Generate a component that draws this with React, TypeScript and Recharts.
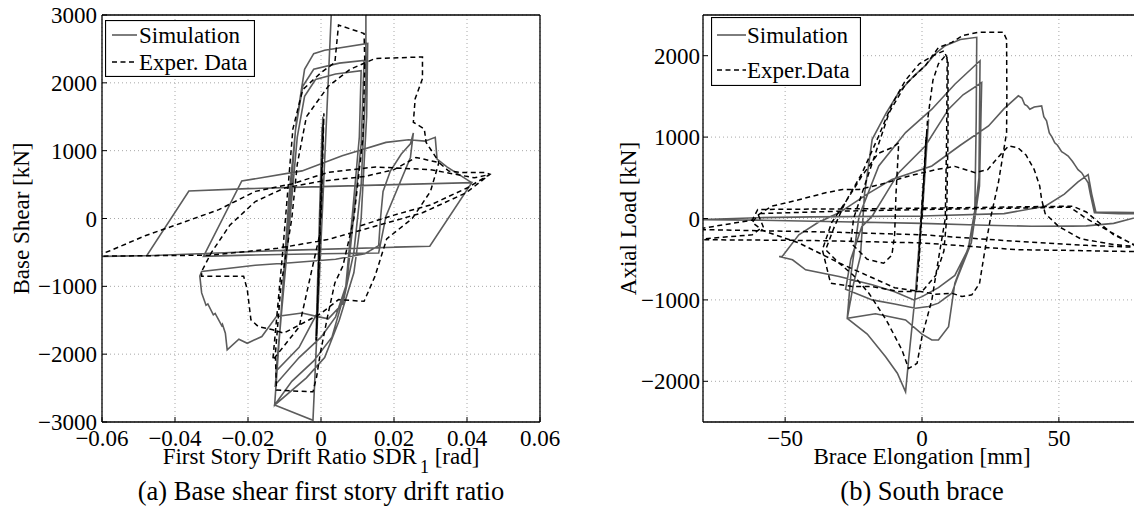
import React from 'react';
import { LineChart, Line, XAxis, YAxis, CartesianGrid, Legend, Label } from 'recharts';

type Pt = { x: number; y: number };
const toPts = (a: number[][]): Pt[] => a.map(([x, y]) => ({ x, y }));

const FONT = "'Liberation Serif', 'Times New Roman', 'DejaVu Serif', serif";
const SIM_COLOR = '#5c5c5c';
const EXP_COLOR = '#000000';

// ---------- axis ticks ----------
const driftTicks = [-0.06, -0.04, -0.02, 0, 0.02, 0.04, 0.06];
const shearTicks = [-3000, -2000, -1000, 0, 1000, 2000, 3000];
const elongTicks = [-50, 0, 50];
const axialTicks = [-2000, -1000, 0, 1000, 2000];

// ---------- (a) base shear vs first story drift ratio ----------
const driftSimulation = toPts([
  [0, 0], [0.0006, 1450], [-0.0012, -1750], [0.0005, 1500], [-0.0014, -1800], [0.0003, 1350], [-0.0011, -1400],
  [-0.006, -1900], [-0.0123, -2250], [-0.0105, -1200], [-0.008, 300], [-0.0065, 1200], [-0.0045, 1800], [-0.0015, 2050],
  [0.004, 2130], [0.011, 2180], [0.0105, 1200], [0.0085, 0], [0.0068, -1000], [0.004, -1450], [0.0, -1750],
  [-0.006, -2050], [-0.0125, -2450],
  [-0.011, -1500], [-0.0085, 200], [-0.007, 1300], [-0.005, 1950], [-0.002, 2200], [0.005, 2290], [0.0118, 2330],
  [0.011, 1100], [0.0085, -200], [0.007, -1000], [0.003, -1750], [-0.002, -2100], [-0.008, -2400], [-0.0127, -2750],
  [-0.0112, -1600], [-0.0088, 300], [-0.0068, 1400], [-0.0045, 2200], [-0.002, 2430], [0.001, 2480], [0.0128, 2580],
  [0.0125, 1500], [0.011, 0], [0.009, -800], [0.005, -1500], [0.001, -2050], [-0.004, -2350], [-0.0127, -2750],
  [-0.0022, -2975], [0.0028, 3000], [0.0032, 3800], [0.0118, 3800], [0.0123, 3000], [0.0123, 2000], [0.011, 500],
  [0.009, -500], [0.006, -1250], [0.002, -1480], [-0.0012, -1443], [-0.0052, -1394], [-0.0122, -1443],
  [-0.0162, -1740], [-0.0202, -1839], [-0.0225, -1780], [-0.0257, -1938], [-0.0262, -1690], [-0.027, -1560],
  [-0.0272, -1580], [-0.029, -1400], [-0.0295, -1420], [-0.031, -1260], [-0.0315, -1280], [-0.0327, -1097],
  [-0.0332, -850], [-0.0327, -780], [-0.018, -690], [-0.0082, -652], [0.004, -600], [0.012, -520], [0.0158, -400],
  [0.0163, 0], [0.017, 400], [0.019, 700], [0.022, 950], [0.0245, 1100], [0.0253, 1260], [0.0245, 900],
  [0.0178, 35], [0.0158, -509], [0.0, -520], [-0.02, -540], [-0.0322, -559],
  [-0.0217, 553], [-0.0052, 702], [0.0058, 924], [0.0178, 1122], [0.024, 1160], [0.0285, 1140], [0.0313, 1196],
  [0.0318, 875], [0.0345, 760], [0.0413, 529], [0.0298, -410], [-0.01, -470], [-0.0477, -549], [-0.061, -560],
  [-0.0477, -545], [-0.0362, 405], [-0.02, 440], [0.0, 470], [0.02, 500], [0.0413, 529], [0.0298, -410], [0.02, -420],
]);

const driftExperiment = toPts([
  [0, 0], [0.0008, 1550], [-0.0013, -1800], [0.0006, 1400], [-0.0012, -1700], [-0.0002, -200],
  [-0.006, -1600], [-0.0132, -2086], [-0.0105, -500], [-0.0077, 1320], [-0.005, 1900], [0.0, 2150], [0.0038, 2300],
  [0.0048, 2852], [0.0118, 2728], [0.012, 2300], [0.0115, 1200], [0.009, 0], [0.006, -700], [0.0038, -949],
  [0.0018, -1443], [-0.0002, -1988], [-0.0012, -2333], [-0.0022, -2555], [-0.0122, -2530], [-0.0125, -2000],
  [-0.011, -1000], [-0.008, 0], [-0.0065, 800], [-0.004, 1500], [0.002, 1950], [0.008, 2200], [0.0148, 2358],
  [0.0278, 2382], [0.0278, 2061], [0.0258, 1765], [0.0253, 1419], [0.0283, 1320], [0.0288, 1122], [0.0318, 875],
  [0.0323, 825], [0.03, 400], [0.025, 0], [0.018, -300], [0.0148, -850], [0.0118, -1221], [0.0048, -1196],
  [0.0, -1400], [-0.0032, -1493], [-0.0102, -1690], [-0.0132, -1641], [-0.0172, -1592], [-0.0192, -1493],
  [-0.0202, -1048], [-0.0212, -850], [-0.0327, -850], [-0.0327, -780], [-0.03, -500], [-0.025, -100],
  [-0.018, 250], [-0.01, 450], [0.0, 550], [0.012, 620], [0.02, 720], [0.026, 900], [0.0323, 825], [0.035, 700],
  [0.0388, 677], [0.0448, 677], [0.0463, 652], [0.0398, 380], [0.0278, 84], [0.0148, -114], [0.0018, -311],
  [-0.012, -440], [-0.03, -540], [-0.06, -555], [-0.062, -560], [-0.058, -480], [-0.048, -250], [-0.04, -100],
  [-0.028, 130], [-0.018, 400], [-0.008, 510], [0.002, 680], [0.015, 760], [0.03, 720], [0.042, 600],
  [0.0463, 650], [0.04, 450], [0.03, 200], [0.02, 50], [0.01, -120],
]);

// ---------- (b) south brace axial load vs elongation ----------
const braceSimulation = toPts([
  [0, 0], [2.4, 1220], [-2.2, -900], [2, 1050], [-2.4, -918], [-4.9, -1739], [-6, -2129], [-9, -1900],
  [-13.3, -1698], [-20, -1420], [-27.3, -1226],
  [-25, -800], [-22.5, -466], [-21, 300], [-18.2, 973], [-13, 1300], [-8.5, 1548], [-3, 1750], [1.2, 1877],
  [5, 2030], [8.5, 2123], [14, 2200], [20, 2226],
  [19.8, 1200], [19.3, 100], [17, -350], [12, -795], [9.7, -1329], [6, -1493], [3.6, -1493], [0, -1420],
  [-6, -1246], [-17, -1170], [-27.3, -1226],
  [-26, -700], [-23, 29], [-15.8, 645], [-6, 1055], [3.6, 1343], [12, 1650], [21.2, 1938], [20.8, 500],
  [18, -300], [12.7, -750], [10.9, -918], [6, -1040], [2.4, -1082], [-2.4, -1103], [-10, -1050], [-18.2, -1000],
  [-27.9, -869],
  [-26, -500], [-22, -100], [-18.2, 29], [-8.5, 563], [1.2, 891], [9.7, 1343], [15, 1520], [21.8, 1671],
  [21, 400], [18, -300], [12, -700], [6, -850], [0, -960], [-3, -1000], [-10, -900], [-18.2, -815],
  [-30.3, -713], [-42.5, -630], [-47.3, -507], [-52.2, -466],
  [-51, -464], [-45, -200], [-38, -50], [-30.3, 70], [-20, 300], [-11, 480], [3.6, 645], [14, 900],
  [24.3, 1137], [30, 1350], [35.2, 1507], [36.5, 1480], [37.5, 1400], [38.5, 1380], [39.4, 1343], [41, 1370],
  [43.7, 1384], [44.5, 1250], [45.5, 1200], [46.5, 1050], [47.5, 1000], [48.5, 930], [49.5, 900], [51, 820],
  [52, 800], [53.4, 768], [55, 700], [56, 650], [57, 600], [58.3, 563], [60.7, 439], [61.5, 300], [63, 70],
  [72, 60], [83, 55],
  [70, -60], [60, -90], [54.6, -94], [40, -95], [20, -80], [0, -60], [-30, -40], [-60, -20], [-83, -15],
  [-60, 10], [-40, 20], [0, 30], [30, 60], [45, 150], [52, 300], [57, 450], [60.7, 540], [62, 300],
  [63.5, 80], [83, 70],
]);

const braceExperiment = toPts([
  [0, 0], [1.5, 1000], [-2, -900], [1.8, 1100], [-1.2, -600], [2, 1200], [4, 1700], [6, 1900], [8.5, 2000],
  [9.2, 1950], [9, 1000], [8.5, 0], [6, -500], [3.6, -1000], [0, -1452], [-1.8, -1780], [-4.9, -1842],
  [-7.3, -1616], [-13, -1250], [-19.4, -918], [-25, -700], [-30.3, -548], [-35.2, -384],
  [-32, -100], [-28, 200], [-22, 550], [-16, 1000], [-11, 1400], [-6, 1700], [-1, 1900], [4, 2000], [8, 2060],
  [9.5, 1950], [9.5, 1000], [9, 0], [8, -400], [5, -700],
  [0, -897], [-8.5, -897], [-18.2, -836], [-25.5, -836], [-33.4, -795], [-36.4, -384],
  [-33, -50], [-27, 250], [-22, 520], [-16, 800], [-11, 870], [-8.5, 930], [-9.5, 300], [-10, -200],
  [-11, -450], [-14, -550], [-20, -500], [-26, -300], [-25, 0],
  [-22, 300], [-17, 800], [-12, 1300], [-6, 1650], [1.2, 1877], [6, 2100], [10.9, 2164], [15, 2250],
  [20.6, 2288], [29.7, 2288], [30.9, 2200], [31, 1500], [30.9, 1055], [27.9, 439], [25, 0], [23, -384],
  [21, -800], [18.2, -938], [14.6, -959], [10.9, -918], [5, -930], [0, -900], [-10, -850], [-20, -700],
  [-30, -550], [-45, -300], [-58, -150], [-62, -50], [-60, 40],
  [-55, 150], [-45, 230], [-35.2, 316], [-29, 357], [-23, 357], [-15, 420], [-5, 520], [5, 600], [12, 640],
  [19.4, 563], [24, 600], [28, 760], [31.6, 891], [35, 870], [38, 780], [41, 600], [43, 400], [43.7, 234],
  [45, 60], [50, -100], [58, -250], [70, -320], [83, -360],
  [60, -330], [30, -270], [0, -200], [-30, -170], [-60, -150], [-83, -135],
  [-62, -20], [-60, 111], [-20, 120], [20, 135], [55, 152], [60, 80], [70, -200], [83, -410],
  [50, -390], [35, -384], [0, -300], [-40, -270], [-83, -260],
  [-62, -200], [-58, -100], [-60, 60], [-30, 90], [0, 110], [40, 130], [54, 140], [60, 0], [83, -430],
]);

const fmtDrift = (v: number) => (Math.abs(v) < 1e-9 ? '0' : (v < 0 ? '\u2212' : '') + Math.abs(v).toFixed(2));
const fmtInt = (v: number) => (v === 0 ? '0' : (v < 0 ? '\u2212' : '') + String(Math.abs(v)));

const tickStyle = { fill: '#000', fontSize: 23, fontFamily: FONT };
const axisLineStyle = { stroke: '#000', strokeWidth: 1.3 };
const tickLineStyle = { stroke: '#000', strokeWidth: 1 };
const textStyle = { fontFamily: FONT };

type LegendSpec = { left: number; top: number; w: number; h: number; row1: number; row2: number; lx1: number; lx2: number; tx: number; expLabel: string };

const LegendBox = ({ spec }: { spec: LegendSpec }) => (
  <svg width={spec.w} height={spec.h} style={{ display: 'block' }}>
    <rect x={0.5} y={0.5} width={spec.w - 1} height={spec.h - 1} fill="#fff" stroke="#000" strokeWidth={1.2} />
    <line x1={spec.lx1} x2={spec.lx2} y1={spec.row1} y2={spec.row1} stroke={SIM_COLOR} strokeWidth={1.6} />
    <text x={spec.tx} y={spec.row1 + 8} fontSize={23} style={textStyle} fill="#000">Simulation</text>
    <line x1={spec.lx1} x2={spec.lx2} y1={spec.row2} y2={spec.row2} stroke={EXP_COLOR} strokeWidth={1.5} strokeDasharray="5 3.5" />
    <text x={spec.tx} y={spec.row2 + 8} fontSize={23} style={textStyle} fill="#000">{spec.expLabel}</text>
  </svg>
);

type PanelProps = {
  width: number;
  height: number;
  margin: { top: number; right: number; bottom: number; left: number };
  xDomain: [number, number];
  yDomain: [number, number];
  xTicks: number[];
  yTicks: number[];
  xFmt: (v: number) => string;
  yFmt: (v: number) => string;
  yTickMargin: number;
  sim: Pt[];
  exp: Pt[];
  xLabel: React.ReactNode;
  yLabel: string;
  yLabelOffset: number;
  caption: string;
  legend: LegendSpec;
};

const X_AXIS_H = 30;
const Y_AXIS_W = 60;

const Panel = (p: PanelProps) => (
  <LineChart width={p.width} height={p.height} margin={p.margin}>
    <CartesianGrid stroke="#a8a8a8" strokeDasharray="1 3" strokeWidth={1} />
    <XAxis
      type="number"
      dataKey="x"
      domain={p.xDomain}
      ticks={p.xTicks}
      allowDataOverflow
      interval={0}
      height={X_AXIS_H}
      tickSize={-5}
      tickMargin={13}
      tickFormatter={p.xFmt}
      tick={tickStyle}
      axisLine={axisLineStyle}
      tickLine={tickLineStyle}
    >
      <Label
        content={(lp: any) => {
          const vb = lp.viewBox || { x: 0, y: 0, width: 0, height: 0 };
          const cx = vb.x + vb.width / 2;
          return (
            <g>
              <text x={cx} y={vb.y + 42} textAnchor="middle" fontSize={23} style={textStyle} fill="#000">{p.xLabel}</text>
              <text x={cx} y={vb.y + 78} textAnchor="middle" fontSize={26.5} style={textStyle} fill="#000">{p.caption}</text>
            </g>
          );
        }}
      />
    </XAxis>
    <XAxis
      xAxisId="top"
      orientation="top"
      type="number"
      dataKey="x"
      domain={p.xDomain}
      ticks={p.xTicks}
      allowDataOverflow
      interval={0}
      height={1}
      tickSize={-5}
      tick={false}
      axisLine={axisLineStyle}
      tickLine={tickLineStyle}
    />
    <YAxis
      type="number"
      domain={p.yDomain}
      ticks={p.yTicks}
      allowDataOverflow
      interval={0}
      width={Y_AXIS_W}
      tickSize={-5}
      tickMargin={p.yTickMargin}
      tickFormatter={p.yFmt}
      tick={tickStyle}
      axisLine={axisLineStyle}
      tickLine={tickLineStyle}
    >
      <Label
        content={(lp: any) => {
          const vb = lp.viewBox || { x: 0, y: 0, width: 0, height: 0 };
          const lx = vb.x + vb.width - p.yLabelOffset;
          const cy = vb.y + vb.height / 2;
          return (
            <text x={lx} y={cy} transform={`rotate(-90, ${lx}, ${cy})`} textAnchor="middle" fontSize={23} style={textStyle} fill="#000">
              {p.yLabel}
            </text>
          );
        }}
      />
    </YAxis>
    <YAxis
      yAxisId="right"
      orientation="right"
      type="number"
      domain={p.yDomain}
      ticks={p.yTicks}
      allowDataOverflow
      interval={0}
      width={1}
      tickSize={-5}
      tick={false}
      axisLine={axisLineStyle}
      tickLine={tickLineStyle}
    />
    <Line
      data={p.sim}
      dataKey="y"
      name="Simulation"
      type="linear"
      stroke={SIM_COLOR}
      strokeWidth={1.6}
      dot={false}
      activeDot={false}
      isAnimationActive={false}
    />
    <Line
      data={p.exp}
      dataKey="y"
      name="Exper. Data"
      type="linear"
      stroke={EXP_COLOR}
      strokeWidth={1.5}
      strokeDasharray="5 3.5"
      dot={false}
      activeDot={false}
      isAnimationActive={false}
    />
    <Legend
      layout="vertical"
      align="center"
      verticalAlign="middle"
      wrapperStyle={{ left: p.legend.left, top: p.legend.top, width: p.legend.w, height: p.legend.h }}
      content={() => <LegendBox spec={p.legend} />}
    />
  </LineChart>
);

const driftXLabel = (
  <>
    First Story Drift Ratio SDR
    <tspan dx={3} dy={9} fontSize={18}>1</tspan>
    <tspan dy={-9}> [rad]</tspan>
  </>
);

export default function App() {
  return (
    <div style={{ position: 'absolute', left: 0, top: 0, width: 1134, height: 508, overflow: 'hidden', background: '#fff', fontFamily: FONT }}>
      <div style={{ position: 'absolute', left: 0, top: 0 }}>
        <Panel
          width={580}
          height={508}
          margin={{ top: 14, right: 39, bottom: 86 - X_AXIS_H, left: 102 - Y_AXIS_W }}
          xDomain={[-0.06, 0.06]}
          yDomain={[-3000, 3000]}
          xTicks={driftTicks}
          yTicks={shearTicks}
          xFmt={fmtDrift}
          yFmt={fmtInt}
          yTickMargin={10}
          sim={driftSimulation}
          exp={driftExperiment}
          xLabel={driftXLabel}
          yLabel="Base Shear [kN]"
          yLabelOffset={73}
          caption="(a) Base shear first story drift ratio"
          legend={{ left: 105, top: 20, w: 150, h: 57, row1: 15, row2: 42, lx1: 7, lx2: 32, tx: 34, expLabel: 'Exper. Data' }}
        />
      </div>
      <div style={{ position: 'absolute', left: 580, top: 0 }}>
        <Panel
          width={562}
          height={508}
          margin={{ top: 14, right: 0, bottom: 86 - X_AXIS_H, left: 123 - Y_AXIS_W }}
          xDomain={[-80, 80]}
          yDomain={[-2500, 2500]}
          xTicks={elongTicks}
          yTicks={axialTicks}
          xFmt={fmtInt}
          yFmt={fmtInt}
          yTickMargin={8}
          sim={braceSimulation}
          exp={braceExperiment}
          xLabel="Brace Elongation [mm]"
          yLabel="Axial Load [kN]"
          yLabelOffset={67}
          caption="(b) South brace"
          legend={{ left: 131, top: 17, w: 150, h: 69, row1: 18, row2: 53, lx1: 6, lx2: 35, tx: 36, expLabel: 'Exper.Data' }}
        />
      </div>
    </div>
  );
}
